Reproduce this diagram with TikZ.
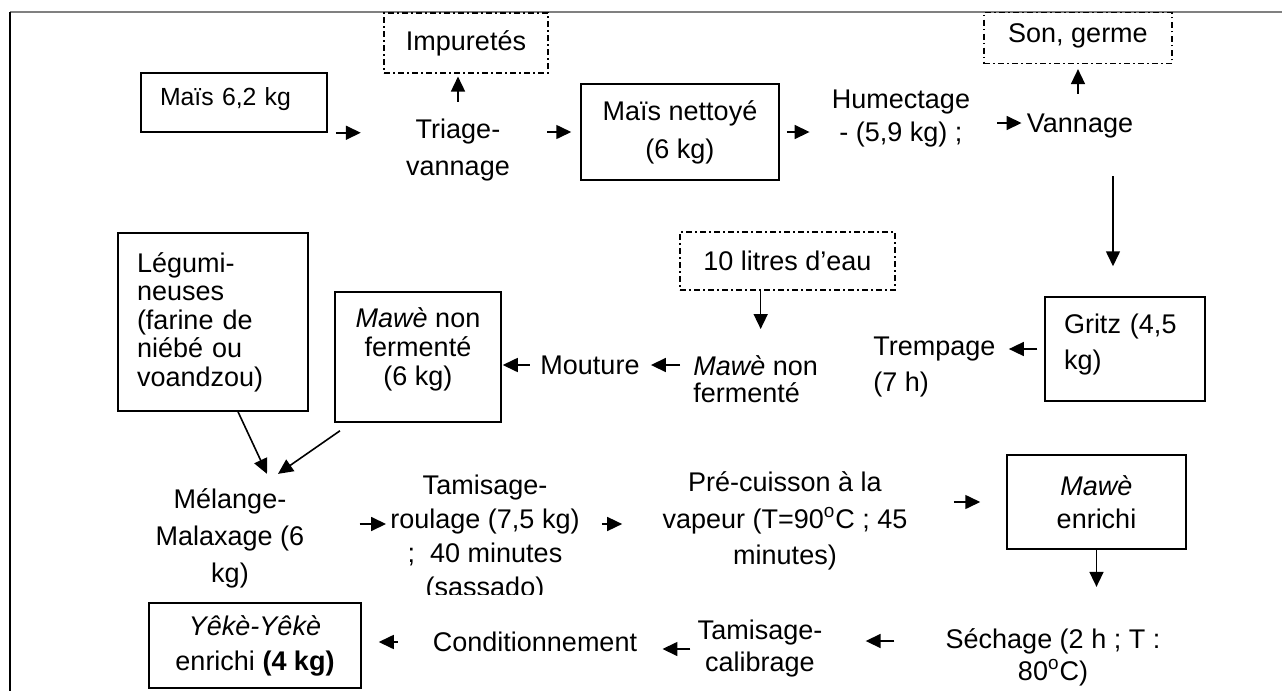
\documentclass[tikz,border=0pt]{standalone}
\usepackage{fontspec}
\setmainfont{Liberation Sans}
\usetikzlibrary{arrows.meta}
\begin{document}
\begin{tikzpicture}[x=0.5pt,y=-0.5pt,
  every node/.style={font=\fontsize{13.5}{17.5}\selectfont, inner sep=0pt},
  box/.style={draw, line width=0.75pt, inner sep=0pt},
  dbox/.style={draw, line width=0.55pt, dash pattern=on 3pt off 1.6pt on 0.8pt off 1.6pt},
  arr/.style={-{Triangle[length=7.5pt,width=7pt]}, line width=0.8pt},
  lbl/.style={align=center},
  lead/.style={font=\fontsize{13.5}{#1}\selectfont}
]
\useasboundingbox (0,0) rectangle (1282,691);
% frame
\draw[draw=black!50, line width=1pt] (10,12) -- (1282,12);
\draw[line width=0.75pt] (10,12) -- (10,691);

% row 1
\node[box, minimum height=29.5pt, text width=74pt, align=left, inner xsep=9.5pt, text depth=6pt, font=\fontsize{12.4}{15}\selectfont] (m62) at (234,102.5) {Maïs 6,2 kg};
\node[dbox, minimum width=82pt, minimum height=30pt] (imp) at (466,43) {Impuretés};
\node[lbl, lead=18.5pt] (triage) at (458,150) {Triage-\\vannage};
\node[box, minimum width=99pt, minimum height=48pt, align=center, lead=19pt] (mn) at (680,132) {Maïs nettoyé\\(6 kg)};
\node[lbl, lead=16.5pt] (hum) at (901,119) {Humectage\\- (5,9 kg) ;};
\node (van) at (1080,126) {Vannage};
\node[dbox, anchor=north, minimum width=94pt, inner ysep=4.85pt, text height=10pt, text depth=5.8pt] (son) at (1078,12) {Son, germe};

% row 2
\node[box, minimum height=52pt, text width=61pt, align=left, inner xsep=9.5pt, text depth=25.15pt, lead=18pt] (gritz) at (1125,349) {Gritz (4,5\\kg)};
\node[align=left, anchor=west, lead=18pt] (trem) at (873,367) {Trempage\\(7 h)};
\node[dbox, minimum width=107.5pt, minimum height=29pt] (eau) at (787.5,261) {10 litres d’eau};
\node[align=left, anchor=west, lead=13.5pt] (mnf) at (693,379) {\textit{Mawè} non\\fermenté};
\node (mou) at (590,365) {Mouture};
\node[box, minimum width=83pt, minimum height=65pt, align=center, text depth=10.2pt, lead=14.5pt] (mbox) at (418,357) {\textit{Mawè} non\\fermenté\\(6 kg)};
\node[box, minimum height=89pt, text width=76pt, align=left, inner xsep=9.5pt, lead=14.25pt] (leg) at (213,322) {Légumi-\\neuses\\(farine de\\niébé ou\\voandzou)};

% row 3
\node[lbl, lead=18.5pt] (mel) at (230,538) {Mélange-\\Malaxage (6\\kg)};
\begin{scope}
  \clip (0,0) rectangle (1282,594);
  \node[lbl, lead=17pt] (tam) at (485,539) {Tamisage-\\roulage (7,5 kg)\\;\ \ 40 minutes\\(sassado)};
\end{scope}
\node[lbl, lead=18.25pt] (pre) at (785,521) {Pré-cuisson à la\\vapeur (T=90\textsuperscript{o}C ; 45\\minutes)};
\node[box, minimum width=89.5pt, minimum height=47pt, align=center, lead=16.5pt] (me) at (1096.5,502) {\textit{Mawè}\\enrichi};

% row 4
\node[lbl, lead=16pt] (sech) at (1053,657) {Séchage (2 h ; T :\\80\textsuperscript{o}C)};
\node[lbl, lead=16pt] (tcal) at (760,649) {Tamisage-\\calibrage};
\node (cond) at (535,642) {Conditionnement};
\node[box, minimum width=106pt, minimum height=42.5pt, align=center, lead=17.5pt] (yeke) at (255,645.5) {\textit{Yêkè-Yêkè}\\enrichi \textbf{(4 kg)}};

% connectors
\draw[arr, shorten <=4pt, shorten >=22.5pt] (m62.south east) -- (m62.south east -| triage.west);
\draw[arr, shorten <=8.5pt, shorten >=1.5pt] (triage.north) -- (triage.north |- imp.south);
\draw[arr, shorten <=18.5pt, shorten >=4.5pt] (triage.east |- mn.west) -- (mn.west);
\draw[arr, shorten <=3.5pt, shorten >=11pt] (mn.east) -- (mn.east -| hum.west);
\coordinate (v4) at ([yshift=1.5pt]van.west);
\draw[arr, shorten <=13.5pt, shorten >=2.5pt] (hum.east |- v4) -- (v4);
\draw[arr, shorten <=10pt, shorten >=2.5pt] (son.south |- van.north) -- (son.south);
\coordinate (gin) at ([xshift=-6pt]gritz.north);
\draw[arr, shorten <=19pt, shorten >=15pt] (van.south -| gin) -- (gin);
\draw[arr, shorten <=3.5pt, shorten >=6.5pt] (gritz.west) -- (gritz.west -| trem.east);
\coordinate (ein) at ([xshift=2.5pt]mnf.north);
\draw[arr, shorten >=13pt] (ein |- eau.south) -- (ein);
\draw[arr, shorten <=6.5pt, shorten >=5.5pt] (mou.east -| mnf.west) -- (mou.east);
\draw[arr, shorten <=5.25pt, shorten >=0.5pt] (mou.west) -- (mou.west -| mbox.east);
\draw[arr] ([xshift=12.5pt]leg.south) -- ([xshift=18.5pt,yshift=7pt]mel.north);
\draw[arr] ([xshift=-39pt,yshift=-4pt]mbox.south) -- ([xshift=24pt,yshift=7pt]mel.north);
\coordinate (t11) at ([yshift=7pt]mel.east);
\draw[arr, shorten <=27.5pt, shorten >=2pt] (t11) -- (t11 -| tam.west);
\draw[arr, shorten <=11pt, shorten >=20pt] (t11 -| tam.east) -- (t11 -| pre.west);
\draw[arr, shorten <=23pt, shorten >=13pt] (pre.east |- me.west) -- (me.west);
\draw[arr, shorten >=20.5pt] (me.south) -- (me.south |- sech.north);
\coordinate (t15) at ([yshift=8pt]sech.west);
\draw[arr, shorten <=25.5pt, shorten >=21.5pt] (t15) -- (t15 -| tcal.east);
\draw[arr, shorten <=3.5pt, shorten >=12.5pt] (tcal.west) -- (tcal.west -| cond.east);
\draw[arr, shorten <=17.5pt, shorten >=8.5pt] (cond.west) -- (cond.west -| yeke.east);
\end{tikzpicture}
\end{document}
